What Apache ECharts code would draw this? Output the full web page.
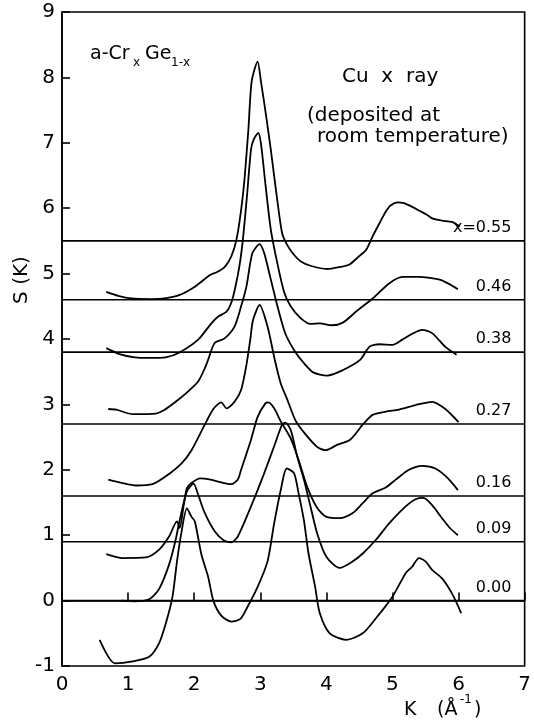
<!DOCTYPE html>
<html><head><meta charset="utf-8">
<script src="https://cdn.jsdelivr.net/npm/echarts@6/dist/echarts.min.js"></script>
<style>html,body{margin:0;padding:0;background:#fff}#c{width:534px;height:723px}</style>
</head><body><div id="c"></div>
<script>
// Baselines (vertical offsets) and their labels
const baselineValues = [5.5, 4.6, 3.8, 2.7, 1.6, 0.9, 0.0];
const baselineLabels = ['x=0.55', '0.46', '0.38', '0.27', '0.16', '0.09', '0.00'];
const xTicks = [0, 1, 2, 3, 4, 5, 6, 7];
const yTicks = [-1, 0, 1, 2, 3, 4, 5, 6, 7, 8, 9];

// Curves: [K, S(K) + offset]
const c055 = [[0.67,4.72],[0.85,4.66],[1.05,4.62],[1.34,4.61],[1.55,4.62],[1.77,4.67],[2.01,4.80],[2.24,4.98],[2.34,5.02],[2.46,5.10],[2.56,5.26],[2.64,5.52],[2.71,5.97],[2.76,6.43],[2.82,7.2],[2.87,7.94],[2.96,8.24],[3.01,7.94],[3.09,7.4],[3.16,6.89],[3.26,6.1],[3.33,5.62],[3.40,5.45],[3.50,5.30],[3.62,5.18],[3.76,5.12],[4.01,5.07],[4.20,5.10],[4.35,5.14],[4.50,5.27],[4.60,5.36],[4.70,5.57],[4.83,5.82],[4.90,5.95],[4.97,6.04],[5.08,6.09],[5.16,6.08],[5.30,6.02],[5.41,5.96],[5.52,5.90],[5.61,5.84],[5.75,5.81],[5.90,5.79],[6.02,5.72]];
const c046 = [[0.67,3.86],[0.87,3.77],[1.10,3.72],[1.32,3.71],[1.57,3.72],[1.77,3.79],[2.06,3.99],[2.26,4.24],[2.36,4.34],[2.49,4.42],[2.56,4.55],[2.62,4.78],[2.69,5.15],[2.74,5.55],[2.80,6.2],[2.86,6.9],[2.90,7.05],[2.97,7.15],[3.01,6.99],[3.08,6.35],[3.16,5.67],[3.26,5.15],[3.36,4.72],[3.46,4.50],[3.61,4.32],[3.76,4.23],[3.90,4.24],[4.08,4.21],[4.25,4.25],[4.45,4.42],[4.70,4.62],[4.95,4.85],[5.15,4.95],[5.40,4.95],[5.70,4.91],[5.84,4.85],[5.99,4.76]];
const c038 = [[0.70,2.93],[0.82,2.92],[1.07,2.85],[1.42,2.86],[1.54,2.91],[1.72,3.04],[1.91,3.20],[2.06,3.35],[2.16,3.55],[2.21,3.68],[2.31,3.94],[2.46,4.01],[2.61,4.19],[2.71,4.50],[2.79,4.80],[2.88,5.31],[2.99,5.45],[3.06,5.31],[3.15,4.95],[3.26,4.50],[3.38,4.08],[3.53,3.80],[3.67,3.62],[3.80,3.49],[4.01,3.44],[4.26,3.53],[4.51,3.68],[4.65,3.88],[4.80,3.92],[5.00,3.91],[5.15,3.99],[5.30,4.08],[5.45,4.14],[5.60,4.09],[5.80,3.88],[5.97,3.76]];
const c027 = [[0.70,1.85],[0.90,1.80],[1.12,1.76],[1.37,1.78],[1.57,1.90],[1.81,2.10],[1.96,2.30],[2.16,2.69],[2.29,2.93],[2.41,3.03],[2.49,2.94],[2.61,3.04],[2.71,3.22],[2.79,3.60],[2.85,4.0],[2.89,4.29],[2.99,4.52],[3.11,4.19],[3.22,3.68],[3.31,3.32],[3.41,3.07],[3.53,2.76],[3.67,2.56],[3.86,2.35],[3.99,2.30],[4.16,2.38],[4.36,2.46],[4.55,2.69],[4.70,2.84],[4.90,2.89],[5.10,2.92],[5.35,2.99],[5.60,3.04],[5.80,2.93],[6.00,2.73]];
const c016 = [[0.67,0.71],[0.92,0.65],[1.27,0.66],[1.47,0.78],[1.62,0.98],[1.74,1.21],[1.78,1.11],[1.84,1.45],[1.89,1.72],[1.96,1.80],[2.09,1.87],[2.25,1.85],[2.40,1.81],[2.56,1.78],[2.66,1.85],[2.71,2.0],[2.86,2.46],[2.96,2.81],[3.08,3.02],[3.12,3.03],[3.21,2.94],[3.31,2.74],[3.46,2.48],[3.58,2.15],[3.71,1.74],[3.86,1.42],[4.00,1.28],[4.20,1.26],[4.40,1.34],[4.55,1.49],[4.70,1.64],[4.90,1.73],[5.05,1.85],[5.25,2.0],[5.45,2.06],[5.65,2.02],[5.84,1.87],[5.99,1.69]];
const c009 = [[0.90,0.0],[1.10,-0.01],[1.32,0.02],[1.47,0.18],[1.62,0.55],[1.72,0.93],[1.77,1.18],[1.89,1.67],[1.99,1.79],[2.06,1.62],[2.16,1.34],[2.31,1.06],[2.45,0.92],[2.56,0.89],[2.66,0.98],[2.86,1.44],[3.06,1.95],[3.21,2.36],[3.33,2.69],[3.38,2.72],[3.46,2.61],[3.56,2.20],[3.66,1.85],[3.76,1.44],[3.86,1.03],[4.00,0.67],[4.20,0.50],[4.40,0.60],[4.55,0.72],[4.75,0.93],[4.95,1.18],[5.20,1.44],[5.35,1.55],[5.47,1.57],[5.60,1.46],[5.75,1.26],[5.87,1.11],[5.99,1.0]];
const c000 = [[0.57,-0.60],[0.80,-0.96],[1.07,-0.93],[1.32,-0.86],[1.47,-0.65],[1.57,-0.35],[1.67,0.05],[1.74,0.6],[1.80,1.0],[1.89,1.41],[1.96,1.28],[2.01,1.21],[2.11,0.70],[2.21,0.37],[2.29,0.0],[2.41,-0.23],[2.56,-0.32],[2.70,-0.28],[2.81,-0.09],[2.96,0.21],[3.11,0.60],[3.21,1.18],[3.31,1.69],[3.40,2.02],[3.51,1.95],[3.58,1.64],[3.66,1.23],[3.73,0.72],[3.83,0.21],[3.90,-0.19],[4.05,-0.50],[4.30,-0.60],[4.55,-0.50],[4.75,-0.27],[5.00,0.06],[5.20,0.42],[5.30,0.52],[5.40,0.65],[5.50,0.60],[5.60,0.47],[5.75,0.34],[5.90,0.11],[6.04,-0.19]];
const curves = [c055, c046, c038, c027, c016, c009, c000];

const FONT = '"DejaVu Sans", sans-serif';
const chart = echarts.init(document.getElementById('c'), null, {renderer: 'canvas'});

const series = [];
baselineValues.forEach(function (b) {
  series.push({type: 'line', data: [[xTicks[0], b], [xTicks[xTicks.length - 1], b]], symbol: 'none', silent: true,
    lineStyle: {color: '#000', width: 1.6}, animation: false});
});
curves.forEach(function (c) {
  series.push({type: 'line', data: c, symbol: 'none', smooth: 0.25, silent: true,
    lineStyle: {color: '#000', width: 1.8}, animation: false});
});

const axisCommon = {
  type: 'value', interval: 1,
  axisLine: {show: true, lineStyle: {color: '#000', width: 1.6}},
  axisTick: {show: true, inside: true, length: 8, lineStyle: {color: '#000', width: 1.6}},
  splitLine: {show: false},
  axisLabel: {color: '#000', fontSize: 20, fontFamily: FONT}
};

chart.setOption({
  animation: false,
  backgroundColor: '#fff',
  grid: {left: 62, right: 5, top: 12, bottom: 57, show: true, borderColor: '#000', borderWidth: 1.6, containLabel: false},
  xAxis: Object.assign({}, axisCommon, {min: xTicks[0], max: xTicks[xTicks.length - 1],
    axisLabel: Object.assign({}, axisCommon.axisLabel, {margin: 9})}),
  yAxis: Object.assign({}, axisCommon, {min: yTicks[0], max: yTicks[yTicks.length - 1],
    axisLabel: Object.assign({}, axisCommon.axisLabel, {margin: 7})}),
  series: series
});

const graphics = [];
baselineValues.forEach(function (b, i) {
  const p = chart.convertToPixel({gridIndex: 0}, [6.8, b]);
  graphics.push({type: 'text', x: p[0], y: p[1] - 5, silent: true,
    style: {text: baselineLabels[i], align: 'right', verticalAlign: 'bottom', fill: '#000', font: '16px ' + FONT}});
});
function txt(t, x, y, size, extra) {
  return Object.assign({type: 'text', x: x, y: y, silent: true,
    style: {text: t, align: 'left', verticalAlign: 'middle', fill: '#000', font: size + 'px ' + FONT}}, extra || {});
}
graphics.push(txt('a-Cr', 90, 54, 19));
graphics.push(txt('x', 133, 63, 12));
graphics.push(txt('Ge', 145, 54, 19));
graphics.push(txt('1-x', 171, 63, 12));
graphics.push(txt('Cu  x  ray', 342, 77, 20));
graphics.push(txt('(deposited at', 307, 116, 20));
graphics.push(txt('room temperature)', 317, 137, 20));
graphics.push({type: 'text', x: 22, y: 280, rotation: Math.PI / 2, silent: true,
  style: {text: 'S (K)', align: 'center', verticalAlign: 'middle', fill: '#000', font: '20px ' + FONT}});
graphics.push(txt('K', 404, 710, 19));
graphics.push(txt('(Å', 437, 710, 19));
graphics.push(txt('-1', 460, 700, 12));
graphics.push(txt(')', 474, 710, 19));
chart.setOption({graphic: graphics});
</script></body></html>
